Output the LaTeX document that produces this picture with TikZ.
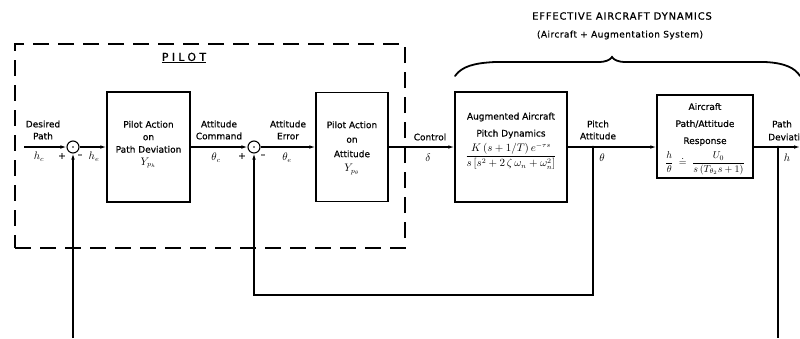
\documentclass[tikz,border=0pt]{standalone}
\usepackage{amsmath}
\usepackage{fontspec}
\setmainfont{DejaVu Sans}[FakeBold=0.6]
\usetikzlibrary{arrows.meta}
\begin{document}
\begin{tikzpicture}[x=1pt,y=-1pt,
  lbl/.style={font=\fontsize{9}{12}\selectfont, inner sep=0pt, align=center},
  mlbl/.style={font=\fontsize{10.5}{12}\selectfont, inner sep=0pt},
  blk/.style={draw, line width=1.4pt, inner sep=0pt},
  intxt/.style={align=center, inner sep=0pt, font=\fontsize{9}{10}\selectfont},
  sumjn/.style={draw, circle, line width=1.1pt, minimum size=12pt, inner sep=0pt},
  sig/.style={line width=1.1pt},
  arr/.style={sig, -{Latex[length=6pt,width=3.6pt]}},
  dashbox/.style={draw, line width=1.2pt, dash pattern=on 16pt off 9pt, minimum width=390pt, minimum height=204pt, inner sep=0pt}
]
\useasboundingbox (0,0) rectangle (800,338);

% pilot dashed box
\node[dashbox] (pilotbox) at (210,146) {};
\node[font=\fontsize{11}{12}\selectfont, inner sep=0pt] (pilot) at (184,58) {\underline{\addfontfeature{LetterSpace=30}PILOT}};

% title and brace
\node[font=\fontsize{10}{12}\selectfont, inner sep=0pt] (title1) at (622,16) {\addfontfeature{LetterSpace=8}EFFECTIVE AIRCRAFT DYNAMICS};
\node[font=\fontsize{9}{12}\selectfont, inner sep=0pt] (title2) at (620,35) {\addfontfeature{LetterSpace=5}(Aircraft + Augmentation System)};
\draw[line width=1.8pt, line cap=round] (455,76) .. controls (462,66) and (475,63) .. (495,62) -- (598,62) .. controls (606,62) and (610,60) .. (612,57) .. controls (614,60) and (618,62) .. (626,62) -- (765,62) .. controls (785,63) and (795,68) .. (800,76);

% summing junctions
\node[sumjn] (s1) at (73,147) {};
\fill (s1) circle (0.9pt);
\node[sumjn] (s2) at (254,147) {};
\fill (s2) circle (0.9pt);

% blocks
\node[blk, minimum width=83pt, minimum height=110pt] (b1) at (148.5,147) {};
\node[intxt] (b1t) at (148.5,144.5)
  {Pilot Action\\[2.5pt] on\\[2.5pt] Path Deviation\\[2.5pt] {\fontsize{10.5}{12}\selectfont$Y_{p_h}$}};
\node[blk, minimum width=72pt, minimum height=109pt] (b2) at (352,147) {};
\node[intxt] (b2t) at (352,148)
  {Pilot Action\\[4.5pt] on\\[4.5pt] Attitude\\[4.5pt] {\fontsize{10.5}{12}\selectfont$Y_{p_\theta}$}};
\node[blk, minimum width=112pt, minimum height=110pt] (b3) at (511,147) {};
\node[intxt] (b3t) at (511,141)
  {Augmented Aircraft\\[7pt] Pitch Dynamics\\[4pt] {\fontsize{10.5}{12}\selectfont$\dfrac{K\,(s+1/T)\,e^{-\tau s}}{s\left[s^2 + 2\,\zeta\,\omega_n + \omega_n^2\right]}$}};
\node[blk, minimum width=96pt, minimum height=83pt] (b4) at (705,136.5) {};
\node[intxt] (b4t) at (705,139)
  {Aircraft\\[7pt] Path/Attitude\\[7pt] Response\\[5pt] {\fontsize{10}{12}\selectfont$\dfrac{h}{\theta}\;\doteq\;\dfrac{U_0}{s\,(T_{\theta_2}s+1)}$}};

% coordinates
\coordinate (in) at (24,147);
\coordinate (br1) at (593,147);
\coordinate (br2) at (778,147);
\coordinate (out) at (800,147);
\coordinate (fb) at (593,295);
\coordinate (bot1) at (73,338);
\coordinate (bot2) at (778,338);

% connectors
\draw[arr] (in) -- (s1);
\draw[arr] (s1) -- (b1);
\draw[arr] (b1) -- (s2);
\draw[arr] (s2) -- (b2);
\draw[arr] (b2) -- (b3);
\draw[arr] (b3.east) -- (b3.east -| b4.west);
\draw[arr] (b4.east |- br2) -- (out);
\draw[arr] (br1) -- (fb) -| (s2);
\draw[arr] (bot1) -- (s1);
\draw[sig] (br2) -- (bot2);
\fill (br1) circle (1.3pt);
\fill (br2) circle (1.3pt);

% signal labels
\node[lbl] (ldes) at (43,130) {Desired\\Path};
\node[mlbl] (lhc) at (39,157) {$h_c$};
\node[lbl] (lp1) at (62,156) {+};
\node[lbl] (lm1) at (80,156) {–};
\node[mlbl] (lhe) at (94,157) {$h_e$};
\node[lbl] (lcmd) at (219,130) {Attitude\\Command};
\node[mlbl] (lthc) at (216,158) {$\theta_c$};
\node[lbl] (lp2) at (242,156) {+};
\node[lbl] (lm2) at (263,156) {–};
\node[lbl] (lerr) at (288,130) {Attitude\\Error};
\node[mlbl] (lthe) at (287,158) {$\theta_e$};
\node[lbl] (lctl) at (430,137) {Control};
\node[mlbl] (ldel) at (428,158) {$\delta$};
\node[lbl] (lpitch) at (598,130) {Pitch\\Attitude};
\node[mlbl] (lth) at (602,158) {$\theta$};
\node[lbl] (lpath) at (782,124) {Path};
\node[lbl, anchor=west] (ldev) at (768,137) {Deviation};
\node[mlbl] (lh) at (787,158) {$h$};
\end{tikzpicture}
\end{document}
